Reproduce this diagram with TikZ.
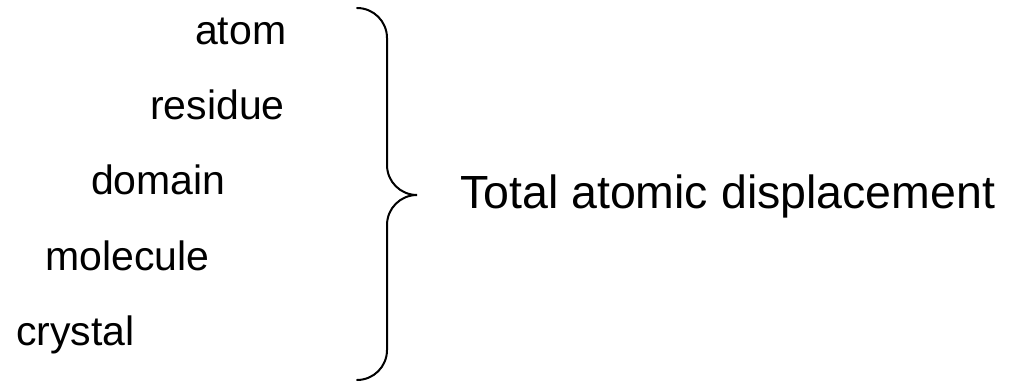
\documentclass[tikz,border=0pt]{standalone}
\usepackage{fontspec}
\setmainfont{Liberation Sans}
\usetikzlibrary{positioning}

\begin{document}
\begin{tikzpicture}[x=1pt,y=-1pt,
        level/.style={inner sep=0pt, anchor=base west, font=\fontsize{41}{49}\selectfont},
        total/.style={inner sep=0pt, anchor=base west, font=\fontsize{46.5}{55}\selectfont},
        bracket/.style={line width=2pt, line cap=round}]
        \useasboundingbox (0,0) rectangle (1025,382);
        \node[level] (atom) at (195,45) {atom};
        \node[level] (residue) at (150,120) {residue};
        \node[level] (domain) at (91,195) {domain};
        \node[level] (molecule) at (45,270) {molecule};
        \node[level] (crystal) at (16,345) {crystal};
        \coordinate (btop) at (357,8);
        \coordinate (tip) at (417,195);
        \coordinate (bbot) at (357,380);
        \draw[bracket] (btop) .. controls (373.6,8) and (387,21.4) .. (387,38) -- (387,165)
            .. controls (387,181.6) and (400.4,195) .. (tip)
            .. controls (400.4,195) and (387,208.4) .. (387,225)
            -- (387,350) .. controls (387,366.6) and (373.6,380) .. (bbot);
        \node[total] (total) at (460,209) {Total atomic displacement};
    \end{tikzpicture}
\end{document}
